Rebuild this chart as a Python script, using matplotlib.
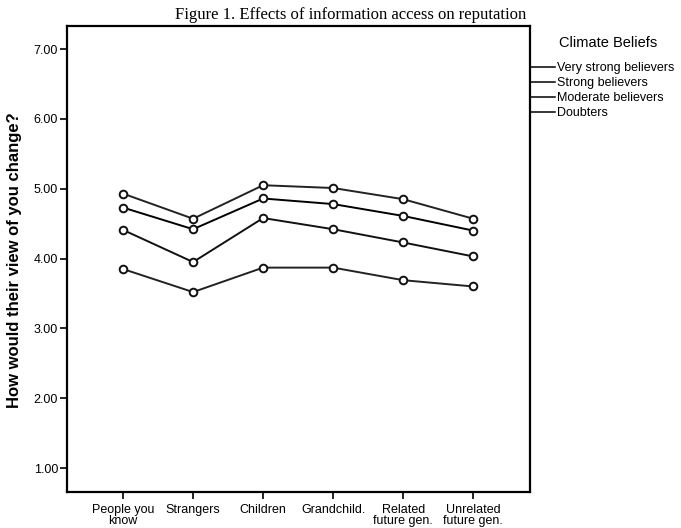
import matplotlib
matplotlib.use("Agg")
import matplotlib.pyplot as plt
from matplotlib.lines import Line2D

categories = ["People you\nknow", "Strangers", "Children", "Grandchild.",
              "Related\nfuture gen.", "Unrelated\nfuture gen."]
series_names = ["Very strong believers", "Strong believers",
                "Moderate believers", "Doubters"]
very_strong = [4.93, 4.57, 5.05, 5.01, 4.85, 4.57]
strong = [4.73, 4.42, 4.86, 4.78, 4.61, 4.40]
moderate = [4.41, 3.95, 4.58, 4.42, 4.23, 4.03]
doubters = [3.85, 3.52, 3.87, 3.87, 3.69, 3.60]
series_values = [very_strong, strong, moderate, doubters]
y_ticks = [1, 2, 3, 4, 5, 6, 7]
y_tick_labels = ["1.00", "2.00", "3.00", "4.00", "5.00", "6.00", "7.00"]

W, H = 681, 528
fig = plt.figure(figsize=(W / 100, H / 100), dpi=100)
ax = fig.add_axes([67 / W, (H - 492) / H, (530 - 67) / W, (492 - 26) / H])

x = list(range(len(categories)))
line_colors = ["#222222", "#000000", "#111111", "#222222"]
for name, vals, c in zip(series_names, series_values, line_colors):
    ax.plot(x, vals, color=c, lw=1.4, marker="o", ms=5.5,
            mfc="white", mec="#111111", mew=1.4, label=name)

ax.set_xlim(-0.8, 5.81)
ax.set_ylim(0.657, 7.33)
ax.set_xticks(x)
ax.set_xticklabels(categories, fontsize=9, family="Liberation Sans",
                   linespacing=0.9)
ax.set_yticks(y_ticks)
ax.set_yticklabels(y_tick_labels, fontsize=9, family="Liberation Sans")
ax.tick_params(axis="both", direction="out", length=5, width=1.2,
               color="black", pad=1.5)
ax.tick_params(axis="x", pad=3.5)
for s in ax.spines.values():
    s.set_linewidth(1.6)
    s.set_color("black")

fig.text(15 / W, 1 - 260 / H, "How would their view of you change?",
         rotation=90, ha="center", va="center", fontsize=12,
         fontweight="bold", family="Liberation Sans")

fig.text(351 / W, 1 - 19 / H, "Figure 1. Effects of information access on reputation",
         ha="center", va="baseline", fontsize=12, family="Liberation Serif")

fig.text(559 / W, 1 - 43 / H, "Climate Beliefs", ha="left", va="center",
         fontsize=10.5, family="Liberation Sans")

leg_handles = [Line2D([], [], color="black", lw=1.1) for _ in series_names]
ax.legend(leg_handles, series_names, loc="upper left",
          bbox_to_anchor=(1.0, 1 - (62 - 26) / (492 - 26)),
          frameon=False, borderaxespad=0, borderpad=0,
          handlelength=2.0, handletextpad=0.16, labelspacing=0.24,
          prop={"family": "Liberation Sans", "size": 9})

fig.savefig("out.png", dpi=100)
